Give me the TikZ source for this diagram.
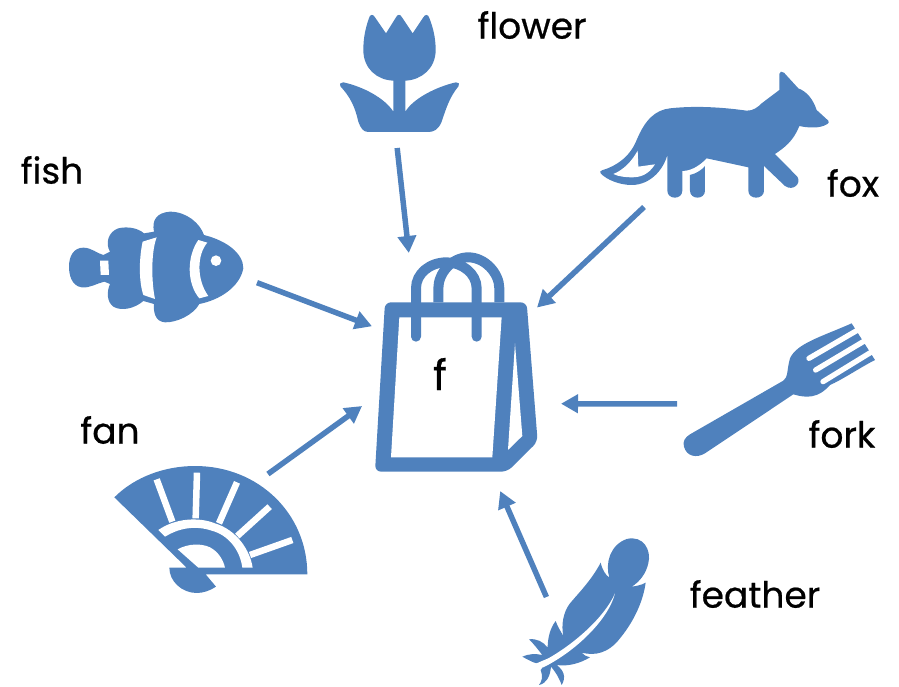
\documentclass[tikz,border=0pt]{standalone}
\usepackage{fontspec}
\usepackage{xcolor}
\usepackage{tikz}
\usetikzlibrary{arrows.meta}
\setmainfont[FakeBold=0.6]{Poppins}
\definecolor{iconblue}{HTML}{4F81BD}

\begin{document}
\begin{tikzpicture}[x=1pt, y=-1pt,
    iconbox/.style={rectangle, draw=none, inner sep=0pt, outer sep=0pt},
    word/.style={font=\fontsize{36}{40}\selectfont, text=black, inner sep=0pt},
    link/.style={-{Triangle[length=17pt, width=18pt]}, iconblue, line width=5.5pt},
    zoomed/.style={x=0.3333pt, y=-0.3333pt}]
    \useasboundingbox (0,0) rectangle (899,686);

    % flower
    \begin{scope}[shift={(330,0)}, zoomed]
        \fill[iconblue] (117,54) .. controls (120,42) and (130,42) .. (135,52) -- (168,100) -- (198,52) .. controls (203,42) and (211,42) .. (216,52) -- (248,100) -- (280,52) .. controls (285,42) and (295,42) .. (298,54) .. controls (308,80) and (317,110) .. (317,150) .. controls (317,205) and (275,240) .. (226,242) -- (226,335) .. controls (250,295) and (320,260) .. (378,247) .. controls (386,246) and (390,252) .. (386,258) .. controls (360,290) and (350,320) .. (335,365) .. controls (325,390) and (310,396) .. (295,396) -- (115,396) .. controls (100,396) and (92,385) .. (85,365) .. controls (75,320) and (60,290) .. (32,260) .. controls (27,252) and (32,246) .. (40,247) .. controls (100,260) and (165,295) .. (190,335) -- (190,242) .. controls (140,240) and (100,205) .. (100,150) .. controls (100,110) and (108,80) .. (117,54) -- cycle;
    \end{scope}

    % fox
    \begin{scope}[shift={(590,60)}, zoomed]
        \fill[iconblue] (568,42) .. controls (568,35) and (576,32) .. (582,38) -- (625,85) .. controls (650,95) and (668,115) .. (680,150) -- (715,182) .. controls (718,186) and (716,190) .. (712,192) .. controls (690,207) and (650,203) .. (628,198) .. controls (610,245) and (580,265) .. (555,282) -- (622,350) .. controls (635,370) and (610,395) .. (585,378) -- (522,318) -- (522,392) .. controls (522,420) and (475,420) .. (475,392) -- (475,322) -- (350,295) .. controls (335,310) and (310,332) .. (277,333) -- (277,392) .. controls (277,420) and (232,420) .. (232,392) -- (232,285) .. controls (220,330) and (180,375) .. (125,375) .. controls (90,375) and (50,360) .. (32,340) .. controls (29,336) and (30,333) .. (36,331) .. controls (80,318) and (120,290) .. (140,240) .. controls (165,180) and (195,150) .. (240,145) .. controls (330,135) and (420,145) .. (470,152) .. controls (490,153) and (505,140) .. (515,130) -- (568,90) -- cycle;
        \fill[iconblue] (300,345) .. controls (320,340) and (335,330) .. (345,318) -- (345,392) .. controls (345,420) and (300,420) .. (300,392) -- cycle;
        \fill[white] (143,272) -- (145,320) -- (195,313) .. controls (175,345) and (150,352) .. (125,352) .. controls (110,352) and (85,350) .. (70,342) .. controls (100,330) and (125,305) .. (143,272) -- cycle;
    \end{scope}

    % fish
    \begin{scope}[shift={(60,200)}, zoomed]
        \fill[iconblue] (550,205) .. controls (540,260) and (480,300) .. (418,312) .. controls (400,345) and (350,368) .. (315,367) .. controls (285,365) and (280,335) .. (282,312) -- (250,303) .. controls (225,325) and (185,335) .. (160,320) .. controls (140,305) and (140,275) .. (150,252) -- (133,245) .. controls (110,250) and (90,265) .. (65,262) .. controls (35,258) and (27,225) .. (27,200) .. controls (27,170) and (40,143) .. (70,143) .. controls (95,143) and (110,160) .. (130,165) -- (150,155) .. controls (135,130) and (145,95) .. (175,85) .. controls (205,78) and (235,85) .. (252,100) -- (282,95) .. controls (275,60) and (290,38) .. (330,35) .. controls (380,35) and (420,70) .. (432,105) .. controls (500,122) and (550,160) .. (550,205) -- cycle;
        \fill[white] (120,182) -- (145,182) -- (147,225) -- (122,225) -- cycle;
        \fill[white] (248,125) -- (290,112) .. controls (272,160) and (275,250) .. (285,297) -- (250,285) .. controls (235,240) and (238,170) .. (248,125) -- cycle;
        \fill[white] (415,120) -- (442,128) .. controls (410,165) and (410,240) .. (445,288) -- (418,295) .. controls (380,250) and (380,170) .. (415,120) -- cycle;
        \fill[white] (468,182) circle (5.3pt);
    \end{scope}

    % bag
    \begin{scope}[shift={(370,245)}, zoomed]
        \fill[iconblue, rounded corners=6pt] (45,172) -- (470,172) -- (503,590) -- (412,680) -- (15,680) -- cycle;
        \fill[white] (88,217) -- (395,217) -- (367,637) -- (63,637) -- cycle;
        \fill[white] (435,295) -- (457,573) -- (414,615) -- cycle;
        \draw[iconblue, line width=10pt, line cap=round] (138,275) -- (138,130) .. controls (138,85) and (180,52) .. (230,52) .. controls (275,52) and (320,85) .. (320,130) -- (320,275);
        \draw[iconblue, line width=10pt] (205,172) -- (205,130) .. controls (205,85) and (245,37) .. (295,37) .. controls (345,37) and (388,85) .. (388,130) -- (388,172);
    \end{scope}

    % fan
    \begin{scope}[shift={(105,460)}, zoomed]
        \fill[iconblue] (28,112) .. controls (90,50) and (180,18) .. (270,18) .. controls (460,18) and (607,160) .. (607,343) -- (302,343) -- (333,380) .. controls (315,392) and (295,399) .. (275,399) .. controls (232,399) and (193,365) .. (193,323) -- (245,323) -- cycle;
        \fill[white] (218,268) .. controls (250,250) and (290,250) .. (315,262) .. controls (340,275) and (355,300) .. (360,323) -- (280,323) -- cycle;
        \fill[white] (160,210) .. controls (210,175) and (280,170) .. (330,190) .. controls (395,210) and (435,270) .. (443,323) -- (412,323) .. controls (405,270) and (370,225) .. (320,212) .. controls (270,195) and (220,205) .. (180,230) -- cycle;
        \foreach \ribfrom/\ribto in {{202,185}/{155,58}, {272,175}/{276,38}, {342,190}/{396,67}, {397,228}/{494,140}, {435,285}/{562,240}}
            \draw[white, line width=6.5pt] (\ribfrom) -- (\ribto);
    \end{scope}

    % feather
    \begin{scope}[shift={(515,530)}, zoomed]
        \fill[iconblue] (257,98) .. controls (262,120) and (272,135) .. (283,143) .. controls (270,100) and (285,45) .. (335,27) .. controls (385,15) and (410,60) .. (400,100) .. controls (393,130) and (375,155) .. (350,170) .. controls (365,168) and (380,165) .. (392,158) .. controls (385,210) and (360,270) .. (315,325) .. controls (280,370) and (240,378) .. (200,368) .. controls (205,375) and (215,380) .. (225,382) .. controls (195,400) and (160,410) .. (125,405) .. controls (145,420) and (155,440) .. (140,465) .. controls (135,450) and (125,430) .. (108,410) .. controls (105,440) and (95,460) .. (72,465) .. controls (80,455) and (85,440) .. (77,420) -- (85,410) -- (65,400) .. controls (55,398) and (40,390) .. (22,380) .. controls (40,372) and (60,370) .. (82,375) .. controls (70,360) and (55,340) .. (42,328) .. controls (65,325) and (85,335) .. (98,353) .. controls (98,325) and (105,295) .. (122,273) .. controls (128,290) and (135,300) .. (145,318) .. controls (138,285) and (145,245) .. (165,220) .. controls (190,190) and (230,150) .. (257,98) -- cycle;
        \fill[white] (300,190) .. controls (270,260) and (180,340) .. (100,385) -- (60,402) -- (85,412) .. controls (180,365) and (280,270) .. (300,190) -- cycle;
    \end{scope}

    % fork
    \begin{scope}[shift={(675,315)}, zoomed]
        \fill[iconblue] (45,358) -- (325,197) .. controls (340,187) and (335,165) .. (345,130) .. controls (365,85) and (440,65) .. (530,25) -- (600,135) .. controls (560,155) and (500,195) .. (465,210) .. controls (430,250) and (395,250) .. (355,238) -- (90,415) .. controls (65,430) and (35,425) .. (27,395) .. controls (22,380) and (30,367) .. (45,358) -- cycle;
        \foreach \slotfrom/\slotto in {{402,130}/{557,40}, {422,165}/{578,72}, {444,200}/{599,105}}
            \draw[white, line width=5.3pt, line cap=round] (\slotfrom) -- (\slotto);
    \end{scope}

    % hit boxes of the icons, the connectors end on them
    \node[iconbox, minimum width=165pt, minimum height=238pt] (bag) at (454.5,372) {};
    \node[iconbox, minimum width=119pt, minimum height=134pt] (flower) at (399.5,81) {};
    \node[iconbox, minimum width=228pt, minimum height=137pt] (fox) at (715,138.5) {};
    \node[iconbox, minimum width=198pt, minimum height=136pt] (fork) at (776,390) {};
    \node[iconbox, minimum width=127pt, minimum height=89pt] (feather) at (586.5,641.5) {};
    \node[iconbox, minimum width=192pt, minimum height=120pt] (fan) at (210,534) {};
    \node[iconbox, minimum width=189pt, minimum height=112pt] (fish) at (162.5,266) {};

    \draw[link] (flower.268.7) -- (bag.111.76);
    \draw[link] (fox.224.8) -- (bag.38.66);
    \draw[link, shorten >=24pt] (fork.188.05) -- (bag.-21.2);
    \draw[link] (feather.132.3) -- (bag.-69.9);
    \draw[link, shorten >=12.3pt] (fan.46.5) -- (bag.198);
    \draw[link] (fish.-10.8) -- (bag.151.9);

    \node[word] (flowerlabel) at (532,25) {flower};
    \node[word] (foxlabel) at (853,183) {fox};
    \node[word] (fishlabel) at (52,170) {fish};
    \node[word] (fanlabel) at (110,430) {fan};
    \node[word] (forklabel) at (842,434) {fork};
    \node[word] (featherlabel) at (755,594) {feather};
    \node[word, font=\fontsize{42}{46}\selectfont] (baglabel) at (440,374) {f};
\end{tikzpicture}
\end{document}
